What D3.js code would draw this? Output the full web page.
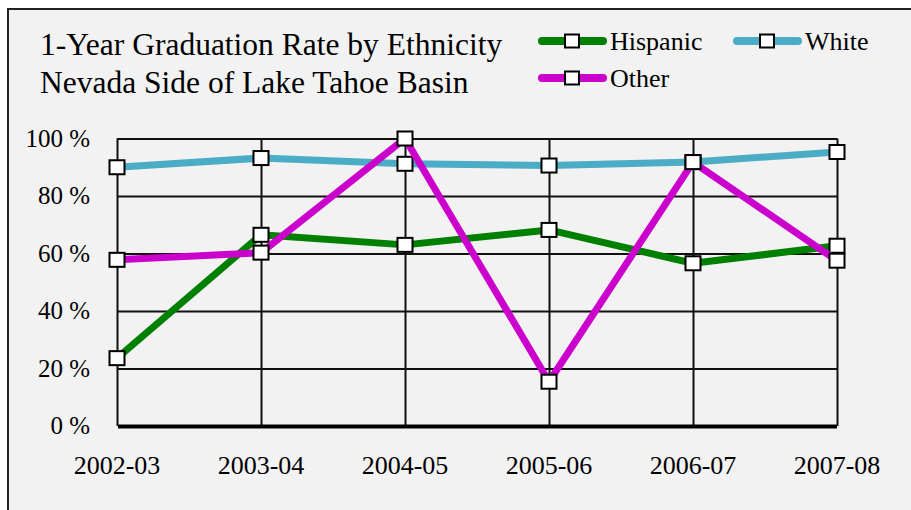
<!DOCTYPE html>
<html>
<head>
<meta charset="utf-8">
<script src="https://cdn.jsdelivr.net/npm/d3@7"></script>
<style>
  body { margin: 0; background: #fff; }
</style>
</head>
<body>
<div id="chart"></div>
<script>
var years = ["2002-03", "2003-04", "2004-05", "2005-06", "2006-07", "2007-08"];
var seriesNames = ["White", "Hispanic", "Other"];
var white = [90, 93.2, 91.2, 90.6, 91.8, 95.3];
var hispanic = [23.6, 66.5, 63, 68.2, 56.6, 62.7];
var other = [57.8, 60.3, 100, 15.4, 91.8, 57.5];
var yTicks = [0, 20, 40, 60, 80, 100];
var titleLines = ["1-Year Graduation Rate by Ethnicity", "Nevada Side of Lake Tahoe Basin"];

var colors = { White: "#4bacc6", Hispanic: "#008000", Other: "#cc00cc" };
var values = { White: white, Hispanic: hispanic, Other: other };
var serif = "'Liberation Serif', 'Times New Roman', Times, serif";

var W = 911, H = 510;
var svg = d3.select("#chart").append("svg")
    .attr("width", W)
    .attr("height", H)
    .style("font-family", serif);

// outer frame
svg.append("rect")
    .attr("x", 8).attr("y", 9)
    .attr("width", W + 10).attr("height", H + 10)
    .attr("fill", "#f2f2f2")
    .attr("stroke", "#222")
    .attr("stroke-width", 2);

// title
svg.selectAll(".title").data(titleLines).enter().append("text")
    .attr("class", "title")
    .attr("x", 40)
    .attr("y", function(d, i) { return 55 + i * 38; })
    .attr("font-size", 31.5)
    .style("font-family", serif)
    .text(function(d) { return d; });

var x = d3.scalePoint().domain(years).range([117, 837]);
var y = d3.scaleLinear().domain([0, 100]).range([426, 138.5]);

var plot = svg.append("g");

// horizontal grid
plot.append("g")
    .attr("transform", "translate(117,0)")
    .call(d3.axisLeft(y).tickValues(yTicks.slice(1)).tickSize(-720).tickFormat(""))
    .call(function(g) {
        g.select(".domain").remove();
        g.selectAll("line").attr("stroke", "#111").attr("stroke-width", 2);
    });

// vertical grid
plot.append("g")
    .attr("transform", "translate(0,426)")
    .call(d3.axisBottom(x).tickSize(-287.5).tickFormat(""))
    .call(function(g) {
        g.select(".domain").remove();
        g.selectAll("line").attr("stroke", "#111").attr("stroke-width", 2);
    });

// y labels
svg.append("g")
    .selectAll("text").data(yTicks).enter().append("text")
    .attr("x", 90)
    .attr("y", function(d) { return y(d) + 8; })
    .attr("text-anchor", "end")
    .attr("font-size", 25)
    .style("font-family", serif)
    .text(function(d) { return d + " %"; });

// x labels
svg.append("g")
    .selectAll("text").data(years).enter().append("text")
    .attr("x", function(d) { return x(d); })
    .attr("y", 474)
    .attr("text-anchor", "middle")
    .attr("font-size", 26)
    .style("font-family", serif)
    .text(function(d) { return d; });

// bottom axis line
plot.append("line")
    .attr("x1", 118).attr("x2", 837)
    .attr("y1", 426.5).attr("y2", 426.5)
    .attr("stroke", "#000")
    .attr("stroke-width", 4);

var line = d3.line()
    .x(function(d, i) { return x(years[i]); })
    .y(function(d) { return y(d); });

var mw = 15, mh = 14;

seriesNames.forEach(function(name) {
    var g = plot.append("g");
    g.append("path")
        .attr("d", line(values[name]))
        .attr("fill", "none")
        .attr("stroke", colors[name])
        .attr("stroke-width", 7)
        .attr("stroke-linejoin", "round");
    g.selectAll("rect").data(values[name]).enter().append("rect")
        .attr("x", function(d, i) { return x(years[i]) - mw / 2; })
        .attr("y", function(d) { return y(d) - mh / 2; })
        .attr("width", mw).attr("height", mh)
        .attr("fill", "#fff")
        .attr("stroke", "#000")
        .attr("stroke-width", 2);
});

// legend
var legendItems = [
    { name: "Hispanic", x: 538, y: 41 },
    { name: "White", x: 733, y: 41 },
    { name: "Other", x: 538, y: 78 }
];
var lg = svg.append("g").selectAll("g").data(legendItems).enter().append("g")
    .attr("transform", function(d) { return "translate(" + d.x + "," + d.y + ")"; });
lg.append("line")
    .attr("x1", 4).attr("x2", 65)
    .attr("stroke", function(d) { return colors[d.name]; })
    .attr("stroke-width", 8)
    .attr("stroke-linecap", "round");
lg.append("rect")
    .attr("x", 27).attr("y", -6.5)
    .attr("width", 14).attr("height", 13)
    .attr("fill", "#fff")
    .attr("stroke", "#000")
    .attr("stroke-width", 2);
lg.append("text")
    .attr("x", 72)
    .attr("y", 8.5)
    .attr("font-size", 26)
    .style("font-family", serif)
    .text(function(d) { return d.name; });
</script>
</body>
</html>
